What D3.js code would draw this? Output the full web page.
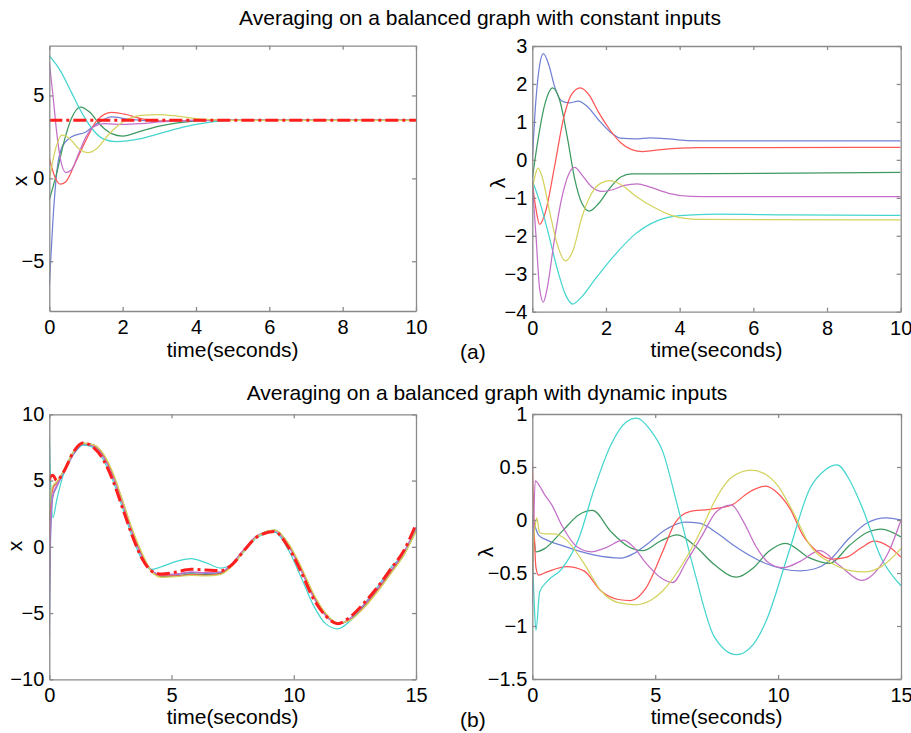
<!DOCTYPE html>
<html>
<head>
<meta charset="utf-8">
<script src="https://cdn.jsdelivr.net/npm/d3@7"></script>
<style>
  body { margin: 0; background: #fff; }
  svg { display: block; }
  text { font-family: "Liberation Sans", Arial, sans-serif; fill: #000; }
</style>
</head>
<body>
<svg id="chart" width="911" height="733"></svg>
<script>
// ---- data: (a) constant inputs, states x ----
const aX_blue    = [[0,-6.5],[0.1,-2.5],[0.2,0.3],[0.35,1.9],[0.6,2.5],[1.0,2.8],[1.3,3.3],[1.7,3.7],[2.2,3.55],[3,3.45],[4,3.5],[10,3.5]];
const aX_green   = [[0,-1.3],[0.2,0.3],[0.4,2.2],[0.6,3.6],[0.85,4.3],[1.1,4.0],[1.4,3.2],[1.7,2.7],[2.0,2.55],[2.5,2.85],[3,3.15],[3.5,3.35],[4.5,3.5],[10,3.5]];
const aX_red     = [[0,1.2],[0.15,0.1],[0.3,-0.35],[0.45,-0.2],[0.7,0.9],[1.0,2.3],[1.3,3.5],[1.7,3.98],[2.1,3.85],[2.5,3.6],[3,3.45],[4,3.5],[10,3.5]];
const aX_cyan    = [[0,7.4],[0.3,6.5],[0.6,5.2],[0.9,3.9],[1.2,2.9],[1.5,2.35],[1.8,2.22],[2.5,2.4],[3,2.7],[3.5,3.0],[4,3.25],[4.5,3.42],[5,3.5],[10,3.5]];
const aX_magenta = [[0,7.0],[0.1,5.0],[0.2,2.8],[0.3,1.2],[0.45,0.35],[0.6,0.5],[0.8,1.5],[1.0,2.5],[1.2,3.1],[1.5,3.3],[2,3.25],[2.5,3.3],[3,3.4],[4,3.5],[10,3.5]];
const aX_yellow  = [[0,-0.1],[0.15,1.6],[0.35,2.6],[0.55,2.4],[0.8,1.8],[1.05,1.55],[1.3,1.8],[1.6,2.6],[2.0,3.4],[2.5,3.8],[3.0,3.85],[3.5,3.75],[4,3.6],[4.5,3.52],[5,3.5],[10,3.5]];
const aX_average = [[0,3.5],[10,3.5]];

// ---- data: (a) constant inputs, multipliers lambda ----
const aL_blue    = [[0,0],[0.1,1.6],[0.2,2.5],[0.3,2.8],[0.45,2.5],[0.6,1.95],[0.8,1.55],[1.0,1.5],[1.25,1.55],[1.5,1.4],[1.8,1.05],[2.1,0.75],[2.4,0.57],[2.8,0.55],[3.2,0.58],[3.6,0.56],[4.2,0.51],[5,0.5],[10,0.5]];
const aL_green   = [[0,-0.5],[0.15,0.5],[0.35,1.5],[0.55,1.9],[0.75,1.55],[0.95,0.6],[1.15,-0.5],[1.35,-1.15],[1.55,-1.35],[1.8,-1.15],[2.1,-0.75],[2.4,-0.45],[2.7,-0.37],[3.5,-0.37],[10,-0.33]];
const aL_red     = [[0,-0.6],[0.1,-1.3],[0.2,-1.7],[0.35,-1.4],[0.6,-0.2],[0.85,1.1],[1.05,1.7],[1.3,1.9],[1.55,1.7],[1.8,1.25],[2.1,0.8],[2.4,0.45],[2.7,0.27],[3.0,0.22],[3.5,0.27],[4.5,0.32],[10,0.33]];
const aL_cyan    = [[0,-0.55],[0.2,-1.1],[0.4,-1.8],[0.7,-2.95],[0.9,-3.55],[1.1,-3.8],[1.3,-3.65],[1.7,-3.15],[2.2,-2.55],[2.8,-1.95],[3.4,-1.6],[4,-1.47],[5,-1.43],[7,-1.45],[10,-1.46]];
const aL_magenta = [[0,-0.6],[0.1,-2.0],[0.2,-3.4],[0.3,-3.75],[0.4,-3.4],[0.6,-2.1],[0.8,-1.0],[1.0,-0.35],[1.15,-0.2],[1.35,-0.4],[1.6,-0.7],[1.9,-0.83],[2.2,-0.78],[2.5,-0.67],[2.85,-0.63],[3.2,-0.72],[3.7,-0.88],[4.3,-0.96],[5,-0.97],[10,-0.97]];
const aL_yellow  = [[0,-0.8],[0.08,-0.4],[0.15,-0.22],[0.25,-0.4],[0.5,-1.5],[0.7,-2.3],[0.9,-2.66],[1.1,-2.4],[1.35,-1.5],[1.6,-0.9],[1.85,-0.62],[2.1,-0.55],[2.4,-0.65],[2.8,-0.95],[3.3,-1.25],[3.8,-1.47],[4.5,-1.57],[10,-1.58]];

// ---- data: (b) dynamic inputs, states x ----
const bX_time    = [0, 0.05, 0.15, 0.3, 0.6, 1.0, 1.4, 1.8, 2.2, 2.6, 3.0, 3.4, 3.8, 4.2, 4.6, 5.2, 5.8, 6.4, 7.0, 7.5, 8.0, 8.5, 9.2, 9.8, 10.3, 10.8, 11.3, 11.8, 12.3, 12.8, 13.4, 14.0, 14.5, 15];
const bX_average = [5.0, 5.3, 5.4, 5.0, 5.7, 7.2, 7.85, 7.5, 6.6, 5.0, 2.9, 0.8, -0.9, -1.85, -2.05, -1.9, -1.7, -1.75, -1.8, -1.3, -0.2, 0.75, 1.15, -0.1, -1.9, -3.9, -5.2, -5.8, -5.3, -4.4, -3.1, -1.6, -0.3, 1.7];
const bX_blue    = [-6.8, 0.5, 3.8, 4.5, 5.6, 7.0, 7.7, 7.6, 6.9, 5.4, 3.3, 1.1, -0.7, -1.8, -2.15, -2.1, -1.95, -2.0, -1.95, -1.3, -0.2, 0.8, 1.2, 0.1, -1.7, -3.7, -5.1, -5.8, -5.5, -4.6, -3.3, -1.8, -0.5, 1.3];
const bX_green   = [2.0, 3.5, 4.5, 4.8, 5.8, 7.2, 7.8, 7.7, 7.0, 5.5, 3.4, 1.2, -0.6, -1.9, -2.25, -2.2, -2.05, -2.1, -2.0, -1.35, -0.2, 0.8, 1.25, 0.15, -1.6, -3.6, -5.05, -5.75, -5.5, -4.7, -3.4, -1.9, -0.6, 1.2];
const bX_red     = [0.5, 3.0, 4.4, 4.8, 5.7, 7.1, 7.8, 7.7, 7.0, 5.5, 3.4, 1.2, -0.6, -1.85, -2.2, -2.2, -2.1, -2.15, -2.05, -1.35, -0.2, 0.8, 1.2, 0.15, -1.6, -3.6, -5.05, -5.8, -5.5, -4.7, -3.4, -1.9, -0.6, 1.3];
const bX_cyan    = [8.3, 5.0, 2.2, 3.5, 5.6, 7.1, 7.7, 7.5, 6.6, 5.0, 2.9, 0.7, -1.0, -1.7, -1.5, -1.1, -0.9, -1.2, -1.6, -1.3, -0.3, 0.7, 1.1, -0.3, -2.3, -4.4, -5.8, -6.2, -5.6, -4.5, -3.1, -1.5, -0.5, 1.4];
const bX_magenta = [-3.5, 1.5, 4.0, 4.6, 5.7, 7.1, 7.8, 7.6, 6.8, 5.3, 3.2, 1.0, -0.8, -1.8, -2.1, -2.05, -1.9, -1.95, -1.9, -1.2, -0.1, 0.85, 1.2, 0.0, -1.8, -3.8, -5.2, -5.85, -5.4, -4.5, -3.2, -1.7, -0.4, 1.5];
const bX_yellow  = [2.5, 3.8, 4.6, 4.9, 5.8, 7.2, 7.8, 7.7, 7.05, 5.6, 3.5, 1.3, -0.5, -1.9, -2.3, -2.25, -2.15, -2.2, -2.1, -1.4, -0.25, 0.75, 1.25, 0.2, -1.5, -3.5, -5.0, -5.75, -5.55, -4.75, -3.45, -1.95, -0.65, 1.15];

// ---- data: (b) dynamic inputs, multipliers lambda ----
const bL_blue    = [[0,-0.8],[0.04,0.0],[0.1,-0.05],[0.25,-0.14],[0.6,-0.19],[1.2,-0.24],[2.5,-0.33],[3.6,-0.36],[4.1,-0.32],[4.6,-0.24],[5.5,-0.08],[6.2,-0.02],[6.8,-0.03],[7.5,-0.12],[8.2,-0.24],[9.5,-0.41],[10.9,-0.48],[11.5,-0.46],[12.0,-0.4],[12.9,-0.17],[13.6,-0.03],[14.4,0.02],[15,0.0]];
const bL_green   = [[0,0.05],[0.05,-0.1],[0.15,-0.3],[0.5,-0.27],[1.2,-0.11],[1.9,0.05],[2.45,0.09],[3.2,-0.11],[3.9,-0.25],[4.5,-0.29],[5.2,-0.2],[5.9,-0.14],[6.6,-0.24],[7.4,-0.42],[8.3,-0.54],[9.0,-0.45],[9.6,-0.3],[10.3,-0.22],[11.3,-0.36],[12.1,-0.41],[12.9,-0.24],[13.6,-0.12],[14.2,-0.085],[15,-0.16]];
const bL_red     = [[0,0.55],[0.05,0.1],[0.15,-0.45],[0.25,-0.52],[0.6,-0.49],[1.4,-0.44],[2.1,-0.48],[2.8,-0.67],[3.5,-0.75],[4.0,-0.76],[4.6,-0.65],[5.3,-0.3],[5.8,-0.03],[6.4,0.08],[7.2,0.1],[8.1,0.14],[8.8,0.26],[9.5,0.32],[10.0,0.25],[10.5,0.1],[11.0,-0.14],[11.6,-0.3],[12.2,-0.37],[12.8,-0.35],[13.4,-0.26],[13.9,-0.2],[14.5,-0.25],[15,-0.35]];
const bL_cyan    = [[0,-0.3],[0.08,-0.8],[0.15,-1.04],[0.3,-0.68],[0.6,-0.58],[1.2,-0.46],[1.9,-0.17],[2.5,0.28],[3.2,0.71],[3.8,0.92],[4.25,0.96],[4.8,0.85],[5.3,0.65],[5.9,0.14],[6.6,-0.49],[7.4,-1.1],[8.3,-1.27],[9.0,-1.17],[9.5,-0.96],[10.4,-0.33],[11.3,0.3],[11.9,0.47],[12.4,0.52],[12.9,0.38],[13.4,0.13],[14.2,-0.36],[15,-0.62]];
const bL_magenta = [[0,-0.7],[0.05,-0.1],[0.12,0.37],[0.3,0.32],[0.5,0.24],[0.8,0.14],[1.2,-0.05],[1.8,-0.25],[2.4,-0.3],[3.0,-0.26],[3.7,-0.19],[4.1,-0.25],[4.6,-0.4],[5.2,-0.54],[5.7,-0.59],[6.3,-0.38],[6.9,-0.15],[7.5,0.08],[8.1,0.14],[8.6,-0.02],[9.1,-0.25],[9.6,-0.4],[10.2,-0.45],[10.9,-0.39],[11.7,-0.29],[12.5,-0.43],[13.4,-0.57],[14.0,-0.48],[14.5,-0.3],[15,0.0]];
const bL_yellow  = [[0,-0.6],[0.05,-0.2],[0.12,-0.05],[0.18,0.02],[0.3,-0.12],[0.5,-0.13],[0.9,-0.13],[1.4,-0.19],[2.1,-0.41],[2.8,-0.67],[3.5,-0.78],[4.2,-0.8],[4.8,-0.76],[5.3,-0.67],[6.1,-0.42],[6.9,-0.08],[7.4,0.17],[8.1,0.4],[8.9,0.47],[9.5,0.43],[10.0,0.32],[10.6,0.08],[11.3,-0.24],[12.2,-0.41],[13.0,-0.48],[13.5,-0.49],[14.2,-0.44],[15,-0.27]];

// ---- ticks and labels ----
const xTicksA = [0, 2, 4, 6, 8, 10];
const xTicksB = [0, 5, 10, 15];
const yTicksAX = [-5, 0, 5];
const yTicksAL = [-4, -3, -2, -1, 0, 1, 2, 3];
const yTicksBX = [-10, -5, 0, 5, 10];
const yTicksBL = [-1.5, -1, -0.5, 0, 0.5, 1];
const titles = ['Averaging on a balanced graph with constant inputs', 'Averaging on a balanced graph with dynamic inputs'];
const xLabel = 'time(seconds)';

const colors = {
    blue: '#7181d4',
    green: '#3e9960',
    red: '#ff5656',
    cyan: '#45d5cf',
    magenta: '#c46fc8',
    yellow: '#d3d35e'
};

const svg = d3.select('#chart');
const fmt = d3.format('');

const zip = (t, v) => t.map((d, i) => [d, v[i]]);

function drawPanel(p) {
    const x = d3.scaleLinear().domain(p.xDomain).range([p.left, p.right]);
    const y = d3.scaleLinear().domain(p.yDomain).range([p.bottom, p.top]);
    const g = svg.append('g');

    g.append('clipPath').attr('id', 'clip-' + p.id)
        .append('rect')
        .attr('x', p.left).attr('y', p.top)
        .attr('width', p.right - p.left).attr('height', p.bottom - p.top);

    const line = d3.line()
        .x(d => x(d[0]))
        .y(d => y(d[1]))
        .curve(d3.curveMonotoneX);

    const plot = g.append('g').attr('clip-path', `url(#clip-${p.id})`);

    p.series.forEach(s => {
        plot.append('path')
            .attr('d', line(s.data))
            .attr('fill', 'none')
            .attr('stroke', colors[s.color])
            .attr('stroke-width', 1.25);
    });

    // red dash-dot average on top
    if (p.average) {
        plot.append('path')
            .attr('d', line(p.average))
            .attr('fill', 'none')
            .attr('stroke', '#ff1f1f')
            .attr('stroke-width', 3)
            .attr('stroke-dasharray', '13,4,3,4');
    }

    // box with inward ticks on all four sides
    const styleAxis = sel => {
        sel.attr('font-size', 20).attr('font-family', '"Liberation Sans", Arial, sans-serif');
        sel.selectAll('.domain, line').attr('stroke', '#8a8a8a').attr('stroke-width', 1.3);
        sel.selectAll('text').attr('fill', '#000');
    };

    g.append('g').attr('transform', `translate(0,${p.bottom})`)
        .call(d3.axisBottom(x).tickValues(p.xTicks).tickSizeInner(-4).tickSizeOuter(0).tickPadding(9).tickFormat(fmt))
        .call(styleAxis);
    g.append('g').attr('transform', `translate(0,${p.top})`)
        .call(d3.axisTop(x).tickValues(p.xTicks).tickSizeInner(-4).tickSizeOuter(0).tickFormat(''))
        .call(styleAxis);
    g.append('g').attr('transform', `translate(${p.left},0)`)
        .call(d3.axisLeft(y).tickValues(p.yTicks).tickSizeInner(-4).tickSizeOuter(0).tickPadding(5).tickFormat(fmt))
        .call(styleAxis);
    g.append('g').attr('transform', `translate(${p.right},0)`)
        .call(d3.axisRight(y).tickValues(p.yTicks).tickSizeInner(-4).tickSizeOuter(0).tickFormat(''))
        .call(styleAxis);

    // axis labels
    g.append('text')
        .attr('x', (p.left + p.right) / 2)
        .attr('y', p.xLabelY)
        .attr('text-anchor', 'middle')
        .attr('font-size', 21)
        .text(xLabel);

    g.append('text')
        .attr('transform', `translate(${p.yLabelX},${p.yLabelY}) rotate(-90)`)
        .attr('text-anchor', 'middle')
        .attr('font-size', 21)
        .text(p.yLabel);
}

drawPanel({
    id: 'ax', left: 49.3, right: 416, top: 45.7, bottom: 311,
    xDomain: [0, 10], yDomain: [-8, 8], xTicks: xTicksA, yTicks: yTicksAX,
    series: [
        { color: 'blue', data: aX_blue }, { color: 'green', data: aX_green },
        { color: 'red', data: aX_red }, { color: 'cyan', data: aX_cyan },
        { color: 'magenta', data: aX_magenta }, { color: 'yellow', data: aX_yellow }
    ],
    average: aX_average,
    yLabel: 'x', yLabelX: 27, yLabelY: 181, xLabelY: 357
});

drawPanel({
    id: 'al', left: 532.3, right: 900.7, top: 46, bottom: 311.7,
    xDomain: [0, 10], yDomain: [-4, 3], xTicks: xTicksA, yTicks: yTicksAL,
    series: [
        { color: 'blue', data: aL_blue }, { color: 'green', data: aL_green },
        { color: 'red', data: aL_red }, { color: 'cyan', data: aL_cyan },
        { color: 'magenta', data: aL_magenta }, { color: 'yellow', data: aL_yellow }
    ],
    yLabel: 'λ', yLabelX: 505, yLabelY: 183, xLabelY: 357
});

drawPanel({
    id: 'bx', left: 49.3, right: 416, top: 414.3, bottom: 679.3,
    xDomain: [0, 15], yDomain: [-10, 10], xTicks: xTicksB, yTicks: yTicksBX,
    series: [
        { color: 'blue', data: zip(bX_time, bX_blue) }, { color: 'green', data: zip(bX_time, bX_green) },
        { color: 'red', data: zip(bX_time, bX_red) }, { color: 'cyan', data: zip(bX_time, bX_cyan) },
        { color: 'magenta', data: zip(bX_time, bX_magenta) }, { color: 'yellow', data: zip(bX_time, bX_yellow) }
    ],
    average: zip(bX_time, bX_average),
    yLabel: 'x', yLabelX: 22, yLabelY: 546, xLabelY: 724
});

drawPanel({
    id: 'bl', left: 532.3, right: 901, top: 414, bottom: 679,
    xDomain: [0, 15], yDomain: [-1.5, 1], xTicks: xTicksB, yTicks: yTicksBL,
    series: [
        { color: 'blue', data: bL_blue }, { color: 'green', data: bL_green },
        { color: 'red', data: bL_red }, { color: 'cyan', data: bL_cyan },
        { color: 'magenta', data: bL_magenta }, { color: 'yellow', data: bL_yellow }
    ],
    yLabel: 'λ', yLabelX: 493, yLabelY: 552, xLabelY: 724
});

// figure titles and sub-figure tags
svg.append('text').attr('x', 480).attr('y', 25).attr('text-anchor', 'middle').attr('font-size', 21).text(titles[0]);
svg.append('text').attr('x', 487).attr('y', 400).attr('text-anchor', 'middle').attr('font-size', 21).text(titles[1]);
svg.append('text').attr('x', 460).attr('y', 359).attr('font-size', 21).text('(a)');
svg.append('text').attr('x', 460).attr('y', 727).attr('font-size', 21).text('(b)');
</script>
</body>
</html>
